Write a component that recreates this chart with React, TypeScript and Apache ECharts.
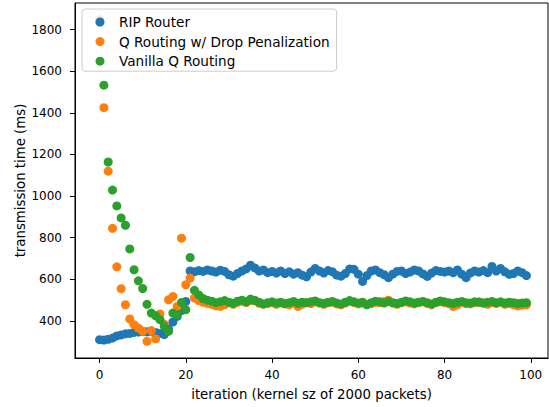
import React, { useEffect, useRef } from "react";
import * as echarts from "echarts";

const seriesNames = ["RIP Router", "Q Routing w/ Drop Penalization", "Vanilla Q Routing"];
const colors = ["#1f77b4", "#ff7f0e", "#2ca02c"];
const xTicks = [0, 20, 40, 60, 80, 100];
const yTicks = [400, 600, 800, 1000, 1200, 1400, 1600, 1800];

const ripRouter = [
  310, 308, 312, 318, 328, 333, 338, 340, 345, 347,
  350, 348, 350, 345, 340, 335, 360, 395, 422, 450,
  494, 640, 636, 642, 638, 645, 640, 635, 644, 638,
  622, 615, 628, 640, 650, 668, 655, 640, 645, 632,
  638, 630, 640, 628, 636, 625, 632, 620, 612, 635,
  652, 640, 630, 642, 636, 620, 615, 628, 650, 648,
  625, 590, 618, 640, 645, 632, 622, 608, 625, 638,
  640, 628, 635, 645, 640, 626, 614, 630, 642, 638,
  635, 640, 632, 645, 625, 608, 630, 640, 635, 642,
  632, 662, 640, 652, 636, 624, 628, 640, 632, 618,
];

const qDropPenalization = [
  1848, 1425, 1120, 845, 660, 555, 478, 410, 382, 366,
  350, 302, 354, 314, 434, 385, 502, 518, 470, 798,
  574, 606, 510, 498, 490, 485, 480, 472, 470, 478,
  488, 480, 490, 495, 488, 498, 500, 485, 480, 484,
  488, 480, 486, 482, 478, 486, 470, 480, 488, 484,
  492, 486, 480, 488, 490, 482, 478, 486, 494, 488,
  482, 486, 480, 484, 490, 488, 494, 500, 486, 480,
  488, 492, 486, 482, 488, 492, 484, 478, 488, 492,
  488, 484, 470, 478, 490, 484, 482, 488, 492, 486,
  480, 488, 484, 490, 480, 484, 478, 472, 476, 478,
];

const vanillaQ = [
  1836, 1533, 1164, 1029, 953, 895, 860, 746, 646, 593,
  556, 480, 438, 425, 406, 374, 350, 438, 430, 489,
  454, 705, 547, 525, 508, 500, 495, 488, 492, 498,
  490, 485, 495, 500, 492, 505, 498, 490, 482, 488,
  492, 486, 490, 484, 488, 494, 485, 490, 488, 492,
  496, 488, 484, 490, 494, 486, 482, 490, 498, 492,
  486, 490, 478, 488, 495, 492, 486, 494, 488, 484,
  490, 496, 492, 486, 490, 494, 488, 482, 490, 496,
  492, 488, 484, 490, 494, 488, 486, 492, 490, 486,
  490, 494, 488, 492, 486, 490, 488, 484, 486, 488,
];

const allSeries = [ripRouter, qDropPenalization, vanillaQ];

export default function App() {
  const ref = useRef<HTMLDivElement>(null);
  useEffect(() => {
    if (!ref.current) return;
    const chart = echarts.init(ref.current, undefined, { renderer: "svg" });
    const font = "DejaVu Sans";
    chart.setOption({
      animation: false,
      backgroundColor: "#ffffff",
      textStyle: { fontFamily: font },
      grid: {
        left: 75,
        right: 1,
        top: 3,
        bottom: 49,
        show: true,
        borderColor: "#000000",
        borderWidth: 1,
        backgroundColor: "transparent",
      },
      legend: {
        show: true,
        orient: "vertical",
        left: 82,
        top: 9,
        z: 10,
        data: seriesNames,
        icon: "circle",
        itemWidth: 28,
        itemHeight: 9,
        itemGap: 3.6,
        padding: [5, 7, 2, 13.5],
        backgroundColor: "rgba(255,255,255,0.8)",
        borderColor: "#cccccc",
        borderWidth: 1,
        borderRadius: 3,
        textStyle: {
          fontFamily: font,
          fontSize: 13.6,
          color: "#000000",
          lineHeight: 16,
        },
      },
      xAxis: {
        type: "value",
        min: -5.7,
        max: 104,
        name: "iteration (kernel sz of 2000 packets)",
        nameLocation: "middle",
        nameGap: 30,
        nameMoveOverlap: false,
        nameTextStyle: { fontFamily: font, fontSize: 13.3, color: "#000000" },
        axisLine: { show: true, onZero: false, lineStyle: { color: "#000000", width: 1 } },
        axisTick: { show: true, length: 5, customValues: xTicks, lineStyle: { color: "#000000" } },
        axisLabel: {
          customValues: xTicks,
          margin: 11,
          fontSize: 12,
          fontFamily: font,
          color: "#000000",
          formatter: (v: number) => String(v),
        },
        splitLine: { show: false },
      },
      yAxis: {
        type: "value",
        min: 222,
        max: 1928,
        name: "transmission time (ms)",
        nameLocation: "middle",
        nameGap: 48,
        nameMoveOverlap: false,
        nameTextStyle: { fontFamily: font, fontSize: 13.3, color: "#000000" },
        axisLine: { show: true, onZero: false, lineStyle: { color: "#000000", width: 1 } },
        axisTick: { show: true, length: 5, customValues: yTicks, lineStyle: { color: "#000000" } },
        axisLabel: {
          customValues: yTicks,
          margin: 13,
          fontSize: 12,
          fontFamily: font,
          color: "#000000",
          formatter: (v: number) => String(v),
        },
        splitLine: { show: false },
      },
      series: allSeries.map((vals, s) => ({
        type: "scatter",
        name: seriesNames[s],
        data: vals.map((v, i) => [i, v]),
        symbol: "circle",
        symbolSize: 9,
        itemStyle: { color: colors[s], opacity: 1 },
        emphasis: { disabled: true },
      })),
    });
    return () => chart.dispose();
  }, []);
  return (
    <div
      ref={ref}
      style={{ position: "absolute", left: 0, top: 0, width: 549, height: 407 }}
    />
  );
}
